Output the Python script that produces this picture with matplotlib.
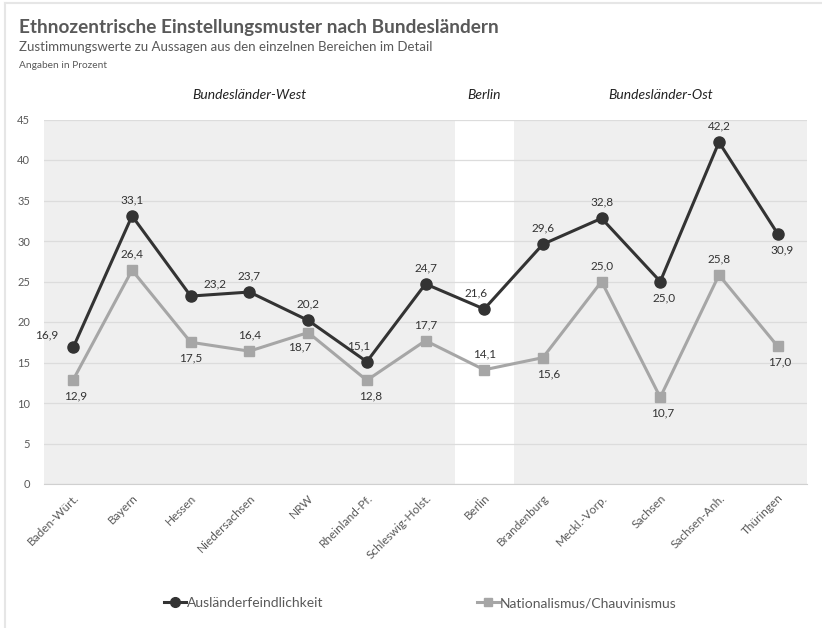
import matplotlib.pyplot as plt
import numpy as np
from matplotlib.lines import Line2D

plt.rcParams['font.family'] = ['Lato', 'DejaVu Sans']

laender = ["Baden-Würt.", "Bayern", "Hessen", "Niedersachsen", "NRW", "Rheinland-Pf.",
           "Schleswig-Holst.", "Berlin", "Brandenburg", "Meckl.-Vorp.", "Sachsen",
           "Sachsen-Anh.", "Thüringen"]
auslaender = [16.9, 33.1, 23.2, 23.7, 20.2, 15.1, 24.7, 21.6, 29.6, 32.8, 25.0, 42.2, 30.9]
national = [12.9, 26.4, 17.5, 16.4, 18.7, 12.8, 17.7, 14.1, 15.6, 25.0, 10.7, 25.8, 17.0]
gruppen = [(3, "Bundesländer-West"), (7, "Berlin"), (10, "Bundesländer-Ost")]

# label placement (dx, dy in pixels)
pos_a = [(-27, 12), (0, 16), (24, 12), (0, 16), (0, 16), (-8, 16), (0, 16), (-8, 16),
         (0, 16), (0, 16), (4, -16), (0, 16), (4, -16)]
pos_n = [(2, -16), (0, 16), (0, -16), (0, 16), (-8, -14), (4, -16), (0, 16), (0, 16),
         (6, -16), (0, 16), (2, -16), (0, 16), (2, -16)]

W, H = 822, 628
fig = plt.figure(figsize=(W / 100, H / 100), dpi=100)
ax = fig.add_axes([44 / W, 1 - 484 / H, 763 / W, 364.5 / H])

x = np.arange(len(laender))
ax.axvspan(-0.5, 6.5, color='#efefef', zorder=0, lw=0)
ax.axvspan(7.5, 12.5, color='#efefef', zorder=0, lw=0)
ax.set_xlim(-0.5, 12.5)
ax.set_ylim(0, 45)
ax.set_yticks(range(0, 46, 5))
ax.grid(axis='y', color='#dcdcdc', lw=0.9, zorder=1)
ax.set_axisbelow(True)
for s in ['top', 'right', 'left']:
    ax.spines[s].set_visible(False)
ax.spines['bottom'].set_color('#d0d0d0')
ax.tick_params(axis='both', length=0, colors='#595959', labelsize=8)
ax.tick_params(axis='y', pad=10)
ax.set_xticks(x)
ax.set_xticklabels(laender, rotation=45, ha='right', rotation_mode='anchor', fontsize=8.5)
ax.tick_params(axis='x', pad=6)

ax.plot(x, auslaender, color='#333333', lw=2.2, marker='o', ms=8, zorder=4)
ax.plot(x, national, color='#a6a6a6', lw=2.2, marker='s', ms=7, zorder=3)

def fmt(v):
    return f"{v:.1f}".replace('.', ',')

for xi, v, (dx, dy) in zip(x, auslaender, pos_a):
    ax.annotate(fmt(v), (xi, v), xytext=(dx, dy), textcoords='offset pixels',
                ha='center', va='center', fontsize=8.5, color='#333333')
for xi, v, (dx, dy) in zip(x, national, pos_n):
    ax.annotate(fmt(v), (xi, v), xytext=(dx, dy), textcoords='offset pixels',
                ha='center', va='center', fontsize=8.5, color='#333333')

# group headings above the plot
for xc, txt in gruppen:
    xf = ax.transData.transform((xc, 0))[0] / W
    fig.text(xf, 1 - 95 / H, txt, fontsize=10, style='italic',
             ha='center', va='center', color='#222222')

fig.text(19 / W, 1 - 27 / H, "Ethnozentrische Einstellungsmuster nach Bundesländern",
         fontsize=13.7, fontweight='bold', color='#595959', va='center')
fig.text(19 / W, 1 - 47 / H, "Zustimmungswerte zu Aussagen aus den einzelnen Bereichen im Detail",
         fontsize=9.5, color='#595959', va='center')
fig.text(19 / W, 1 - 66 / H, "Angaben in Prozent", fontsize=7.3, color='#595959', va='center')

handles = [Line2D([], [], color='#333333', lw=2.2, marker='o', ms=7),
           Line2D([], [], color='#a6a6a6', lw=2.2, marker='s', ms=6)]
fig.legend(handles, ["Ausländerfeindlichkeit", "Nationalismus/Chauvinismus"],
           loc='center', bbox_to_anchor=(420 / W, 1 - 603 / H), ncol=2, frameon=False,
           handlelength=1.6, handletextpad=0.05, columnspacing=11.05, fontsize=10,
           labelcolor='#595959')

# thin outer frame lines
fig.add_artist(Line2D([5 / W, 5 / W], [0, 1 - 3 / H], color='#e6e6e6', lw=1.5))
fig.add_artist(Line2D([5 / W, 1], [1 - 3 / H, 1 - 3 / H], color='#e6e6e6', lw=1.5))

fig.savefig('out.png', dpi=100)
